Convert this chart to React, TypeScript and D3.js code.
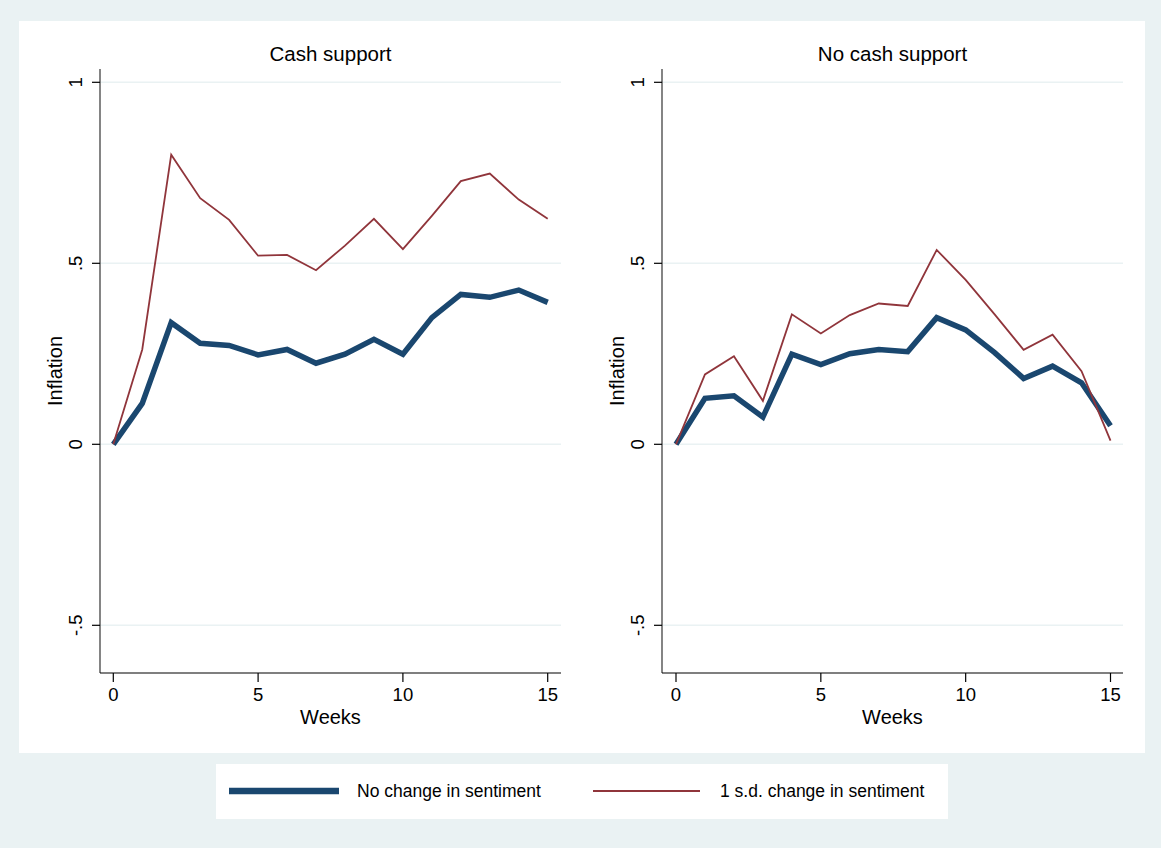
import React from "react";
import * as d3 from "d3";

const weeks = d3.range(0, 16);
const cashNoChange = [0, 0.113, 0.336, 0.279, 0.273, 0.247, 0.262, 0.224, 0.249, 0.29, 0.249, 0.35, 0.414, 0.406, 0.426, 0.392];
const cashOneSD = [0, 0.262, 0.8, 0.68, 0.62, 0.521, 0.523, 0.481, 0.549, 0.623, 0.539, 0.631, 0.727, 0.748, 0.676, 0.623];
const noCashNoChange = [0, 0.127, 0.134, 0.075, 0.249, 0.22, 0.25, 0.262, 0.256, 0.35, 0.316, 0.253, 0.182, 0.216, 0.17, 0.051];
const noCashOneSD = [0, 0.193, 0.243, 0.12, 0.359, 0.306, 0.357, 0.389, 0.382, 0.537, 0.454, 0.359, 0.261, 0.303, 0.202, 0.01];
const yTicks = [-0.5, 0, 0.5, 1];
const yTickLabels = ["-.5", "0", ".5", "1"];
const xTicks = [0, 5, 10, 15];
const panelTitles = ["Cash support", "No cash support"];
const seriesNames = ["No change in sentiment", "1 s.d. change in sentiment"];

const BLUE = "#1a476f";
const RED = "#90353b";
const BG = "#eaf2f3";
const FONT = "'Liberation Sans', Arial, Helvetica, sans-serif";

type PanelProps = {
  title: string;
  left: number;
  right: number;
  x0: number;
  x15: number;
  blue: number[];
  red: number[];
};

const TOP = 69;
const BOTTOM = 673;

function Panel({ title, left, right, x0, x15, blue, red }: PanelProps) {
  const x = d3.scaleLinear().domain([0, 15]).range([x0, x15]);
  const y = d3.scaleLinear().domain([-0.5, 1]).range([625.3, 82.3]);
  const line = d3
    .line<number>()
    .x((_, i) => x(weeks[i]))
    .y((d) => y(d));
  const cx = (left + right) / 2;
  return (
    <g>
      <text x={cx} y={61} textAnchor="middle" fontSize={20.5} fontFamily={FONT} fill="#000">
        {title}
      </text>
      {yTicks.map((t) => (
        <line key={"g" + t} x1={left} x2={right} y1={y(t)} y2={y(t)} stroke={BG} strokeWidth={1.5} />
      ))}
      <line x1={left} x2={left} y1={TOP} y2={BOTTOM} stroke="#333" strokeWidth={1.2} />
      <line x1={left} x2={right} y1={BOTTOM} y2={BOTTOM} stroke="#000" strokeWidth={1.2} />
      {yTicks.map((t, i) => (
        <g key={"yt" + t}>
          <line x1={left - 8} x2={left} y1={y(t)} y2={y(t)} stroke="#000" strokeWidth={1.2} />
          <text
            transform={`translate(${left - 24},${y(t)}) rotate(-90)`}
            textAnchor="middle"
            dy="0.35em"
            fontSize={18.5}
            fontFamily={FONT}
            fill="#000"
          >
            {yTickLabels[i]}
          </text>
        </g>
      ))}
      {xTicks.map((t) => (
        <g key={"xt" + t}>
          <line x1={x(t)} x2={x(t)} y1={BOTTOM} y2={BOTTOM + 9} stroke="#000" strokeWidth={1.2} />
          <text x={x(t)} y={701} textAnchor="middle" fontSize={18.5} fontFamily={FONT} fill="#000">
            {t}
          </text>
        </g>
      ))}
      <text x={cx} y={724} textAnchor="middle" fontSize={20} fontFamily={FONT} fill="#000">
        Weeks
      </text>
      <text
        transform={`translate(${left - 45},${(TOP + BOTTOM) / 2}) rotate(-90)`}
        textAnchor="middle"
        dy="0.35em"
        fontSize={20}
        fontFamily={FONT}
        fill="#000"
      >
        Inflation
      </text>
      <path d={line(blue) || ""} fill="none" stroke={BLUE} strokeWidth={5.5} strokeLinejoin="miter" />
      <path d={line(red) || ""} fill="none" stroke={RED} strokeWidth={1.8} strokeLinejoin="miter" />
    </g>
  );
}

export default function App() {
  React.useEffect(() => {
    document.body.style.margin = "0";
  }, []);
  return (
    <svg
      width={1161}
      height={848}
      style={{ position: "absolute", left: 0, top: 0, display: "block" }}
    >
      <rect x={0} y={0} width={1161} height={848} fill={BG} />
      <rect x={19} y={21} width={1126} height={732} fill="#fff" />
      <Panel title={panelTitles[0]} left={100} right={561} x0={113.3} x15={547.7} blue={cashNoChange} red={cashOneSD} />
      <Panel title={panelTitles[1]} left={662} right={1123} x0={676} x15={1110.5} blue={noCashNoChange} red={noCashOneSD} />
      <rect x={216} y={764} width={732} height={55} fill="#fff" />
      <line x1={229} x2={339} y1={791} y2={791} stroke={BLUE} strokeWidth={6.5} />
      <text x={357} y={797} fontSize={17.5} fontFamily={FONT} fill="#000">
        {seriesNames[0]}
      </text>
      <line x1={593} x2={700} y1={791} y2={791} stroke={RED} strokeWidth={2} />
      <text x={720} y={797} fontSize={17.5} fontFamily={FONT} fill="#000">
        {seriesNames[1]}
      </text>
    </svg>
  );
}
